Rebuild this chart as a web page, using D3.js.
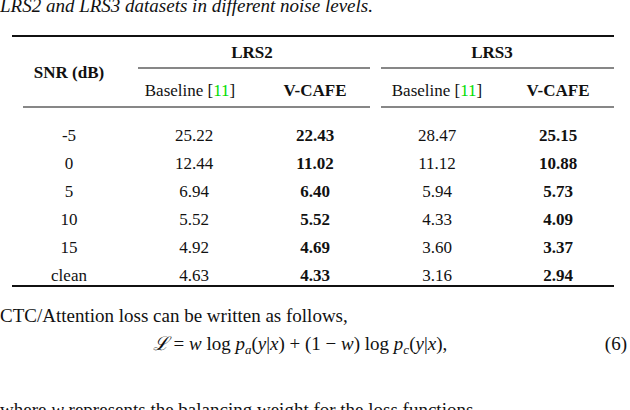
<!DOCTYPE html>
<html><head><meta charset="utf-8">
<script src="https://cdn.jsdelivr.net/npm/d3@7"></script>
<style>body{margin:0;background:#fff}svg{display:block}text{font-family:"Liberation Serif","DejaVu Serif",serif;fill:#111}</style>
</head><body><svg id="c" width="630" height="410"></svg>
<script>
const snr = ["-5","0","5","10","15","clean"];
const lrs2Baseline = ["25.22","12.44","6.94","5.52","4.92","4.63"];
const lrs2VCafe = ["22.43","11.02","6.40","5.52","4.69","4.33"];
const lrs3Baseline = ["28.47","11.12","5.94","4.33","3.60","3.16"];
const lrs3VCafe = ["25.15","10.88","5.73","4.09","3.37","2.94"];

const svg = d3.select("#c");
const fs = 17;
const colX = [69, 194, 315, 437, 558];
const y = d3.scalePoint().domain(snr).range([135, 275]);

svg.append("text").attr("x",0).attr("y",12).attr("font-style","italic").attr("font-size",19)
  .text("LRS2 and LRS3 datasets in different noise levels.");

const line=(x1,x2,yy,w)=>svg.append("line").attr("x1",x1).attr("x2",x2).attr("y1",yy).attr("y2",yy).attr("stroke","#111").attr("stroke-width",w);
line(12,614,36,2.2);
line(138,370,68,1.1); line(381,614,68,1.1);
line(23,370,107,1.1); line(381,614,107,1.1);
line(12,614,286,2.2);

const t=(x,yy,s,bold)=>svg.append("text").attr("x",x).attr("y",yy).attr("text-anchor","middle")
  .attr("font-size",fs).attr("font-weight",bold?"bold":"normal").text(s);
t(69,78,"SNR (dB)",true);
t(252,58,"LRS2",true); t(492,58,"LRS3",true);
[190,437].forEach(x=>{
  const tx=svg.append("text").attr("x",x).attr("y",96).attr("text-anchor","middle").attr("font-size",fs);
  tx.append("tspan").text("Baseline [");
  tx.append("tspan").style("fill","#00dd00").text("11");
  tx.append("tspan").text("]");
});
t(315,96,"V-CAFE",true); t(558,96,"V-CAFE",true);

const cols=[[snr,false],[lrs2Baseline,false],[lrs2VCafe,true],[lrs3Baseline,false],[lrs3VCafe,true]];
cols.forEach(([arr,b],ci)=>{
  svg.append("g").selectAll("text").data(arr).join("text")
    .attr("x",colX[ci]).attr("y",(v,i)=>y(snr[i])+6).attr("text-anchor","middle")
    .attr("font-size",fs).attr("font-weight",b?"bold":"normal").text(v=>v);
});

svg.append("text").attr("x",0).attr("y",322).attr("font-size",19).text("CTC/Attention loss can be written as follows,");
const eq=svg.append("text").attr("x",300).attr("y",350).attr("text-anchor","middle").attr("font-size",19);
const sp=(s,it,extra)=>{const e=eq.append("tspan").text(s);if(it)e.attr("font-style","italic");if(extra)extra(e);return e;};
sp("ℒ",true); sp(" = "); sp("w",true); sp(" log "); sp("p",true);
sp("a",true,e=>e.attr("font-size",13).attr("dy",4));
sp("(",false,e=>e.attr("dy",-4)); sp("y",true); sp("|"); sp("x",true);
sp(") + (1 − "); sp("w",true); sp(") log "); sp("p",true);
sp("c",true,e=>e.attr("font-size",13).attr("dy",4));
sp("(",false,e=>e.attr("dy",-4)); sp("y",true); sp("|"); sp("x",true); sp("),");
svg.append("text").attr("x",627).attr("y",350).attr("text-anchor","end").attr("font-size",19).text("(6)");
const w=svg.append("text").attr("x",0).attr("y",416).attr("font-size",19);
w.append("tspan").text("where ");
w.append("tspan").attr("font-style","italic").text("w");
w.append("tspan").text(" represents the balancing weight for the loss functions");
</script></body></html>
